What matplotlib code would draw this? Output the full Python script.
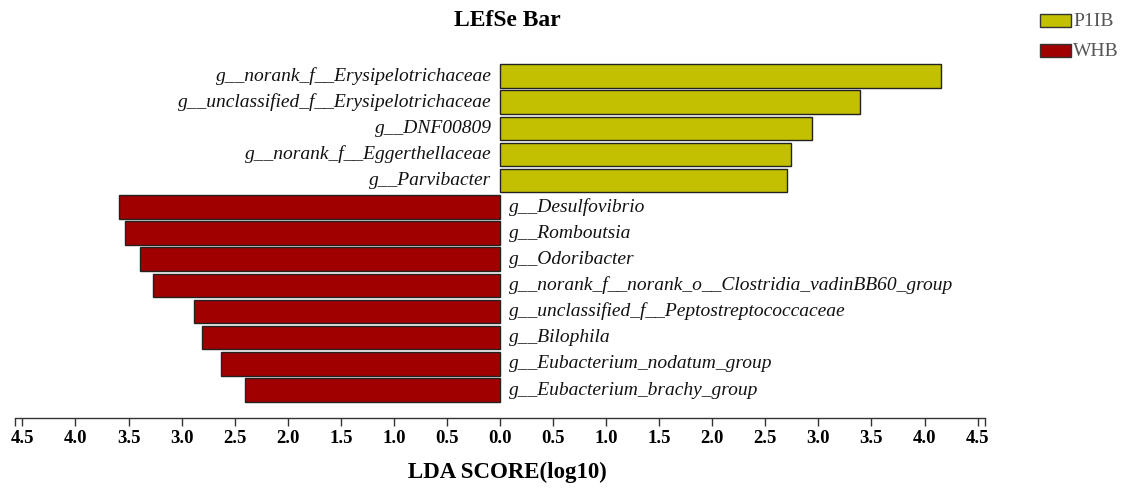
import matplotlib
matplotlib.use("Agg")
import matplotlib.pyplot as plt
from matplotlib.patches import Rectangle
import numpy as np

# Data (top to bottom)
taxa = [
    "g__norank_f__Erysipelotrichaceae",
    "g__unclassified_f__Erysipelotrichaceae",
    "g__DNF00809",
    "g__norank_f__Eggerthellaceae",
    "g__Parvibacter",
    "g__Desulfovibrio",
    "g__Romboutsia",
    "g__Odoribacter",
    "g__norank_f__norank_o__Clostridia_vadinBB60_group",
    "g__unclassified_f__Peptostreptococcaceae",
    "g__Bilophila",
    "g__Eubacterium_nodatum_group",
    "g__Eubacterium_brachy_group",
]
groups = ["P1IB"] * 5 + ["WHB"] * 8
lda = [4.16, 3.39, 2.94, 2.74, 2.70,
       3.59, 3.53, 3.39, 3.27, 2.88, 2.81, 2.63, 2.40]
group_names = ["P1IB", "WHB"]
group_colors = {"P1IB": "#C2C000", "WHB": "#A00000"}
xticks = [-4.5, -4.0, -3.5, -3.0, -2.5, -2.0, -1.5, -1.0, -0.5, 0.0,
          0.5, 1.0, 1.5, 2.0, 2.5, 3.0, 3.5, 4.0, 4.5]
xtick_labels = [f"{abs(t):.1f}" for t in xticks]

W, H = 1126, 491
fig = plt.figure(figsize=(W / 100, H / 100), dpi=100)
ax_left, ax_right = 15, 985
ax_top, ax_bottom = 63, 418
ax = fig.add_axes([ax_left / W, 1 - ax_bottom / H,
                   (ax_right - ax_left) / W, (ax_bottom - ax_top) / H])

n = len(taxa)
ypos = np.arange(n)[::-1]  # top row highest
for y, name, grp, v in zip(ypos, taxa, groups, lda):
    sign = 1 if grp == "P1IB" else -1
    ax.barh(y, sign * v, height=0.9, color=group_colors[grp],
            edgecolor="#222222", linewidth=1.0, zorder=2)
    if sign > 0:
        ax.text(-0.08, y, name, ha="right", va="center", fontsize=14,
                style="italic", family="Liberation Serif", color="#111111")
    else:
        ax.text(0.08, y, name, ha="left", va="center", fontsize=14,
                style="italic", family="Liberation Serif", color="#111111")

ax.set_xlim(-4.57, 4.57)
ax.set_ylim(-1.07, n - 0.5)
for s in ["top", "right", "left"]:
    ax.spines[s].set_visible(False)
ax.spines["bottom"].set_color("#333333")
ax.spines["bottom"].set_linewidth(1.0)
ax.set_yticks([])
ax.set_xticks(xticks)
ax.set_xticklabels(xtick_labels, fontsize=13.5, fontweight="bold",
                   family="Liberation Serif")
ax.set_xticks([-4.57, 4.57], minor=True)
ax.tick_params(axis="x", which="both", direction="out", length=6,
               width=1, color="#333333", pad=2.5)

fig.text(507 / W, 1 - 472 / H, "LDA SCORE(log10)", ha="center", va="center",
         fontsize=16.5, fontweight="bold", family="Liberation Serif")
fig.text(507 / W, 1 - 20 / H, "LEfSe Bar", ha="center", va="center",
         fontsize=17, fontweight="bold", family="Liberation Serif")

# legend
for i, g in enumerate(group_names):
    ytop = 14 + i * 30
    fig.patches.append(Rectangle((1040 / W, 1 - (ytop + 13) / H), 31 / W, 13 / H,
                                 transform=fig.transFigure, facecolor=group_colors[g],
                                 edgecolor="#333333", linewidth=1.0))
    fig.text(1073 / W, 1 - (ytop + 8) / H, g, ha="left", va="center",
             fontsize=14, family="Liberation Serif", color="#555555")

fig.savefig("out.png", dpi=100)
